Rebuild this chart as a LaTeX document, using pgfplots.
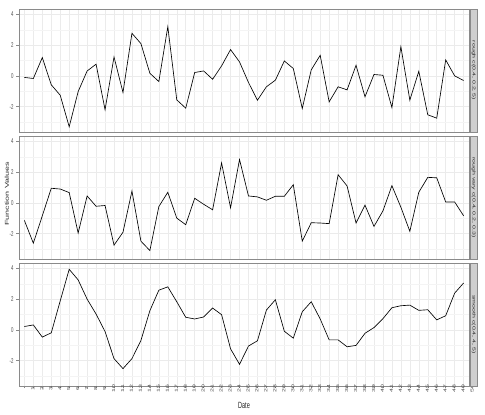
\documentclass[border=0pt]{standalone}
\usepackage{graphicx}
\usepackage{fontspec}
\setmainfont{Liberation Sans}
\usepackage{pgfplots}
\pgfplotsset{compat=1.18}

\definecolor{gridmaj}{HTML}{EBEBEB}
\definecolor{gridmin}{HTML}{F4F4F4}
\definecolor{frame}{HTML}{8A8A8A}
\definecolor{stripfill}{HTML}{CFCFCF}
\definecolor{ticktext}{HTML}{4D4D4D}

\newcommand{\tickfont}{\fontsize{7}{7.5}\selectfont}

\pgfplotsset{
  panel/.style={
    scale only axis, anchor=south west,
    width=450pt, height=123pt,
    xmin=0.4, xmax=50.6, ymin=-3.65, ymax=4.35,
    xtick={1,...,50}, ytick={-2,0,2,4}, minor ytick={-3,-1,1,3},
    grid=both,
    major grid style={draw=gridmaj, line width=0.5pt},
    minor grid style={draw=gridmin, line width=0.35pt},
    axis line style={draw=frame, line width=0.6pt},
    tick pos=left, tick align=outside,
    major tick length=2.5pt, minor tick length=0pt,
    tick style={draw=frame, line width=0.5pt},
    ticklabel style={font=\tickfont, text=ticktext},
    yticklabel={\scalebox{0.62}[1]{\pgfmathtruncatemacro\lab{\tick}\lab}},
    yticklabel style={xshift=0.5pt},
    xticklabels={},
    xtick style={draw=none},
  },
  fline/.style={black, line width=0.65pt, mark=none},
}

\pgfplotstableread{
x y
1 -0.10
2 -0.17
3 1.19
4 -0.58
5 -1.26
6 -3.31
7 -1.02
8 0.32
9 0.76
10 -2.20
11 1.23
12 -1.08
13 2.77
14 2.10
15 0.17
16 -0.37
17 3.20
18 -1.56
19 -2.10
20 0.22
21 0.32
22 -0.22
23 0.65
24 1.71
25 0.91
26 -0.43
27 -1.58
28 -0.71
29 -0.28
30 0.97
31 0.48
32 -2.12
33 0.39
34 1.34
35 -1.69
36 -0.71
37 -0.91
38 0.69
39 -1.36
40 0.09
41 0.04
42 -2.06
43 1.90
44 -1.58
45 0.30
46 -2.53
47 -2.75
48 1.04
49 0.00
50 -0.30
}\roughtab

\pgfplotstableread{
x y
1 -1.14
2 -2.62
3 -0.84
4 0.95
5 0.90
6 0.67
7 -1.96
8 0.45
9 -0.22
10 -0.17
11 -2.75
12 -1.91
13 0.77
14 -2.49
15 -3.10
16 -0.24
17 0.69
18 -0.99
19 -1.42
20 0.30
21 -0.09
22 -0.45
23 2.60
24 -0.32
25 2.82
26 0.45
27 0.39
28 0.17
29 0.43
30 0.43
31 1.18
32 -2.49
33 -1.29
34 -1.31
35 -1.35
36 1.83
37 1.10
38 -1.31
39 -0.15
40 -1.53
41 -0.52
42 1.12
43 -0.28
44 -1.85
45 0.69
46 1.66
47 1.63
48 0.06
49 0.06
50 -0.84
}\varytab

\pgfplotstableread{
x y
1 0.22
2 0.32
3 -0.47
4 -0.19
5 1.89
6 3.94
7 3.25
8 2.00
9 1.03
10 -0.11
11 -1.87
12 -2.52
13 -1.87
14 -0.69
15 1.25
16 2.58
17 2.80
18 1.83
19 0.82
20 0.71
21 0.84
22 1.42
23 0.99
24 -1.23
25 -2.24
26 -1.05
27 -0.71
28 1.29
29 1.96
30 -0.09
31 -0.54
32 1.18
33 1.83
34 0.71
35 -0.65
36 -0.65
37 -1.10
38 -1.01
39 -0.22
40 0.15
41 0.73
42 1.44
43 1.57
44 1.61
45 1.27
46 1.31
47 0.65
48 0.92
49 2.39
50 3.05
}\smoothtab

\begin{document}
\begin{tikzpicture}
\useasboundingbox (0pt,0pt) rectangle (485pt,415pt);

% top panel
\begin{axis}[panel, at={(19pt,283pt)}]
\addplot[fline] table[x=x, y=y] {\roughtab};
\end{axis}

% middle panel
\begin{axis}[panel, at={(19pt,156pt)}]
\addplot[fline] table[x=x, y=y] {\varytab};
\end{axis}

% bottom panel, carries the x axis
\begin{axis}[panel, at={(19pt,29pt)},
  xtick style={draw=frame, line width=0.5pt},
  xticklabel={\scalebox{1}[0.62]{\pgfmathtruncatemacro\lab{\tick}\lab}},
  xticklabel style={rotate=90, anchor=center, yshift=-8.5pt}]
\addplot[fline] table[x=x, y=y] {\smoothtab};
\end{axis}

% facet strips
\foreach \yb/\lbl in {283/{rough c(0.4, 0.2, 5)}, 156/{rough vary c(0.4, 0.2, 0.3)}, 29/{smooth c(0.4, 4, 5)}}{
  \draw[fill=stripfill, draw=frame, line width=0.5pt] (469.8pt,\yb pt) rectangle ++(7.6pt,123pt);
  \node[rotate=-90, font=\tickfont, text=black!85, inner sep=0pt]
    at (473.6pt,\yb pt+61.5pt) {\scalebox{1}[0.6]{\lbl}};
}

\node[rotate=90, font=\fontsize{9}{10}\selectfont, text=black!85, inner sep=0pt]
  at (7pt,221pt) {\scalebox{1}[0.62]{Function Values}};
\node[font=\fontsize{9}{10}\selectfont, text=black!85, inner sep=0pt]
  at (244pt,10pt) {\scalebox{0.62}[1]{Date}};
\end{tikzpicture}
\end{document}
